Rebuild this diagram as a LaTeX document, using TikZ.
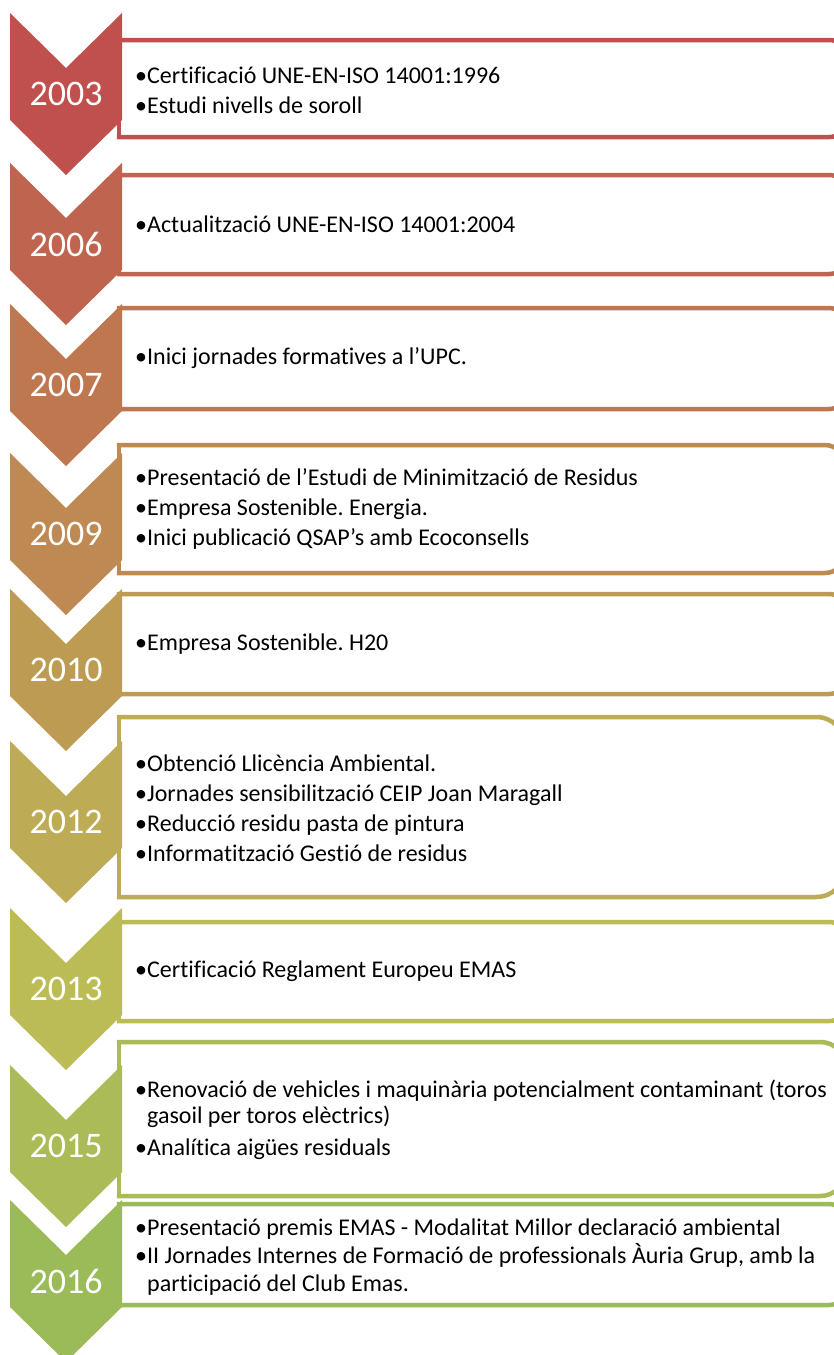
\documentclass[tikz,border=0pt]{standalone}
\usepackage{fontspec}
\setmainfont[Ligatures={NoCommon}]{Carlito}
\usepackage{xcolor}
\usepackage{tikz}

\newcommand{\bul}{\makebox[12pt][l]{\textbullet}}
\frenchspacing

\begin{document}
\begin{tikzpicture}[x=1pt,y=-1pt,
	boxline/.style={line width=4.5pt},
	yearlbl/.style={text=white,inner sep=0pt,font=\fontsize{36}{40}\selectfont},
	itemtxt/.style={anchor=west,align=left,inner sep=0pt,font=\fontsize{24}{30}\selectfont}]
	\useasboundingbox (0,0) rectangle (834,1355);
	\clip (0,0) rectangle (834,1355);
	
	% boxes: index / box top / box bottom
	\foreach \i/\bt/\bb in {0/40/137,1/175/274,2/308/409,3/445/573,4/594/694,5/717/897,6/922/1021,7/1042/1196,8/1204/1305}{
		\pgfmathsetmacro{\h}{1.6+9.75*\i}
		\pgfmathsetmacro{\s}{0.599-0.0094*\i}
		\pgfmathsetmacro{\b}{0.753-0.0025*\i}
		\definecolor{chev}{Hsb}{\h,\s,\b}
		\pgfmathsetmacro{\r}{(\bb-\bt)/6}
		\fill[white] (119,\bt) rectangle (846,\bb);
		\draw[boxline,chev,line cap=rect,rounded corners=\r] (119,\bt) -- (846,\bt) -- (846,\bb) -- (119,\bb);
		\draw[boxline,chev,line cap=rect] (119,\bt) -- (119,\bb);
	}
	
	% chevrons: index / top / year
	\foreach \i/\ct/\yr in {0/13/2003,1/163/2006,2/304/2007,3/453/2009,4/589/2010,5/741/2012,6/908/2013,7/1065/2015,8/1200/2016}{
		\pgfmathsetmacro{\h}{1.6+9.75*\i}
		\pgfmathsetmacro{\s}{0.599-0.0094*\i}
		\pgfmathsetmacro{\b}{0.753-0.0025*\i}
		\definecolor{chev}{Hsb}{\h,\s,\b}
		\fill[chev] (10,\ct) -- (66,\ct+55) -- (122,\ct) -- (122,\ct+107) -- (66,\ct+162) -- (10,\ct+107) -- cycle;
		\node[yearlbl] (y\yr) at (66,\ct+81) {\yr};
	}
	
	\node[itemtxt] (t2003) at (135,90) {\bul Certificació UNE-EN-ISO 14001:1996\\ \bul Estudi nivells de soroll};
	\node[itemtxt] (t2006) at (135,224) {\bul Actualització UNE-EN-ISO 14001:2004};
	\node[itemtxt] (t2007) at (135,358) {\bul Inici jornades formatives a l’UPC.};
	\node[itemtxt] (t2009) at (135,509) {\bul Presentació de l’Estudi de Minimització de Residus\\ \bul Empresa Sostenible. Energia.\\ \bul Inici publicació QSAP’s amb Ecoconsells};
	\node[itemtxt] (t2010) at (135,644) {\bul Empresa Sostenible. H20};
	\node[itemtxt] (t2012) at (135,808) {\bul Obtenció Llicència Ambiental.\\ \bul Jornades sensibilització CEIP Joan Maragall\\ \bul Reducció residu pasta de pintura\\ \bul Informatització Gestió de residus};
	\node[itemtxt] (t2013) at (135,971) {\bul Certificació Reglament Europeu EMAS};
	\node[itemtxt] (t2015) at (135,1120) {\bul Renovació de vehicles i maquinària potencialment contaminant (toros\\[-4pt] \hspace*{12pt}gasoil per toros elèctrics)\\[2pt] \bul Analítica aigües residuals};
	\node[itemtxt] (t2016) at (135,1257) {\bul Presentació premis EMAS - Modalitat Millor declaració ambiental\\[-2pt] \bul II Jornades Internes de Formació de professionals Àuria Grup, amb la\\[-2pt] \hspace*{12pt}participació del Club Emas.};
\end{tikzpicture}
\end{document}
